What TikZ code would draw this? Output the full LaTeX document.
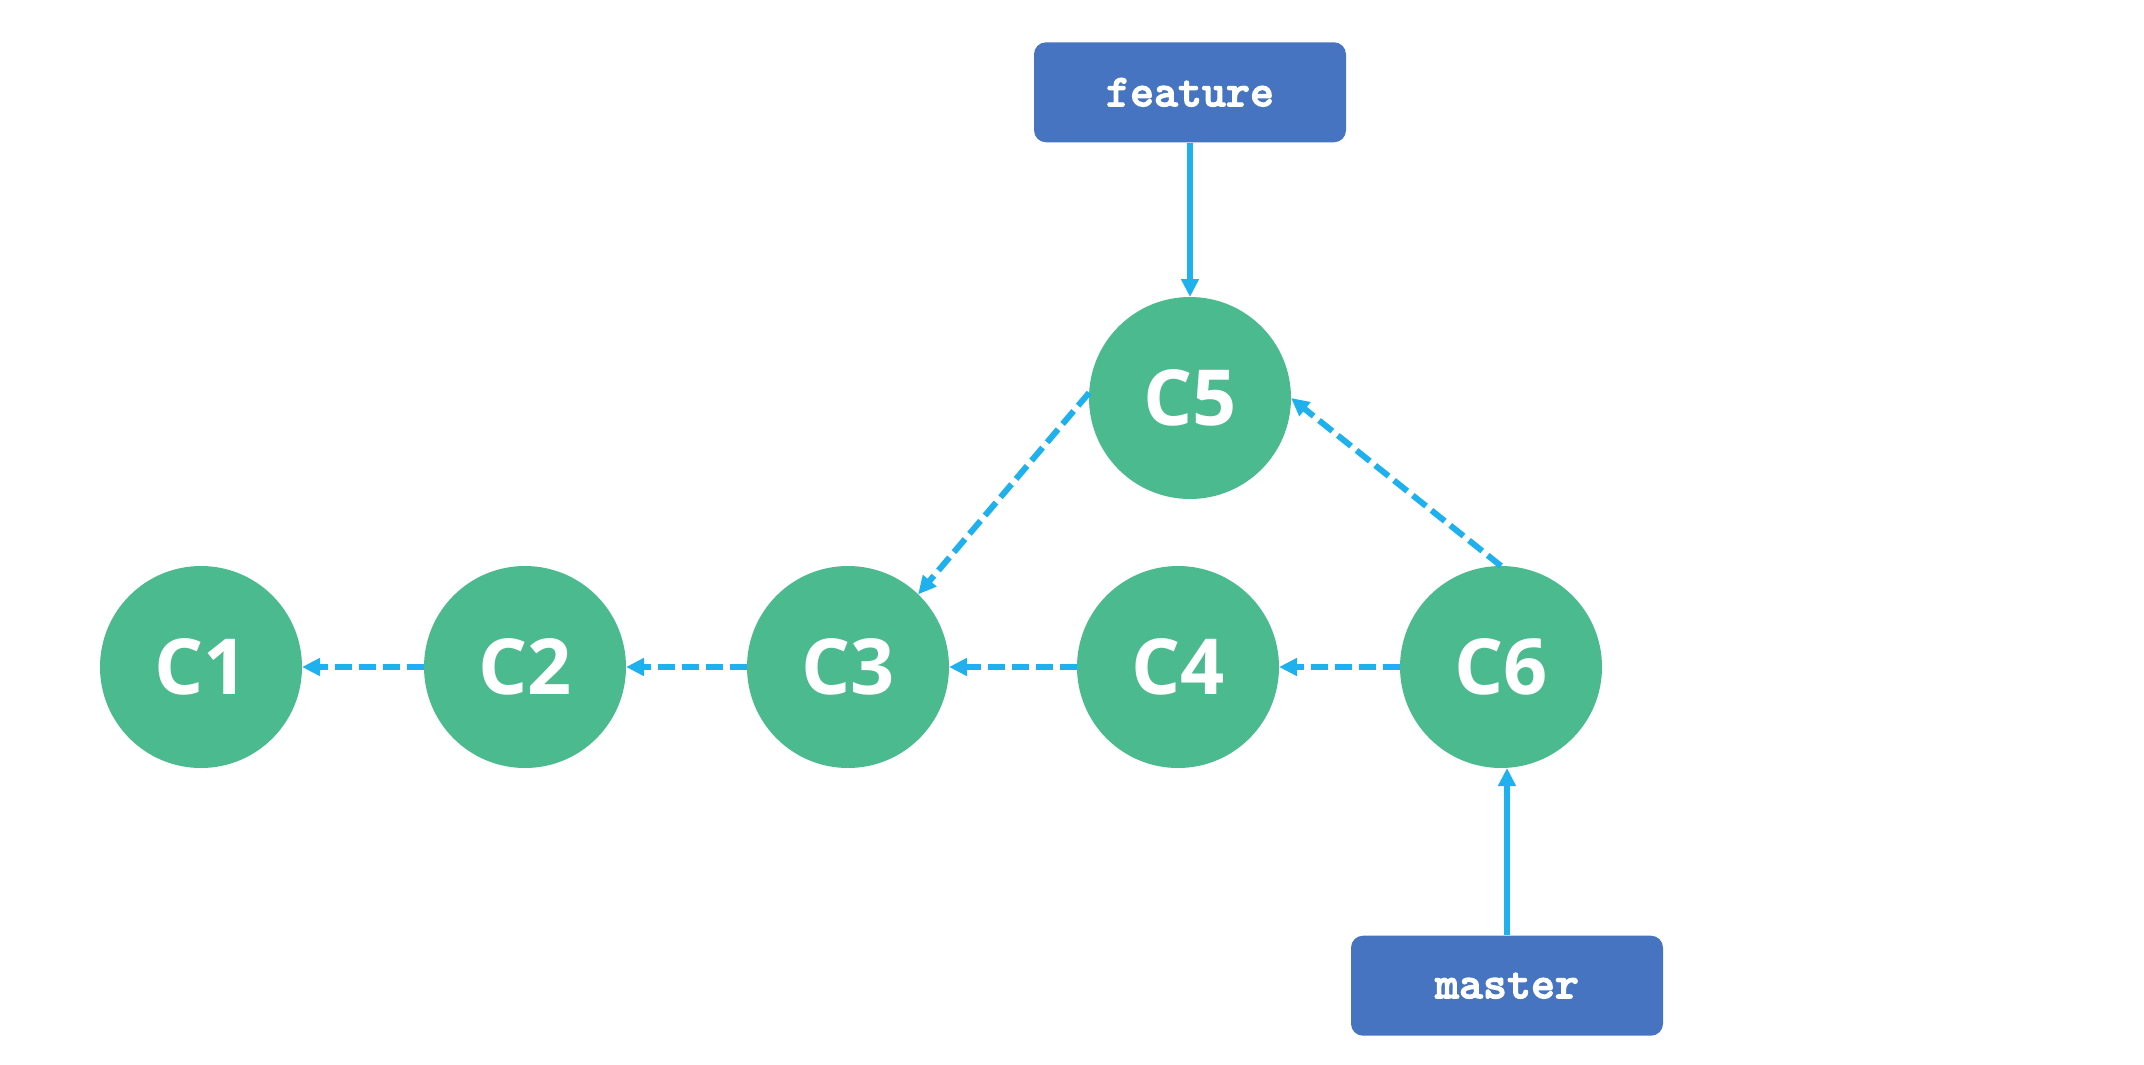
\documentclass[tikz,border=0pt]{standalone}
\usepackage{fontspec}
\usepackage{tikz}
\usetikzlibrary{positioning}
\usetikzlibrary{arrows.meta}

\newfontfamily\commitfont{Open Sans}
\newfontfamily\branchfont{lmmonolt10-bold}[Extension=.otf, FakeBold=2.5]

\definecolor{commitgreen}{RGB}{75,186,143}
\definecolor{branchblue}{RGB}{70,116,193}
\definecolor{linkblue}{RGB}{31,177,238}

\begin{document}
\begin{tikzpicture}[
        commit/.style = {
            circle,
            fill = commitgreen,
            text = white,
            minimum size = 2.02cm,
            inner sep = 0pt,
            outer sep = 0pt,
            font = \commitfont\bfseries\fontsize{22}{26}\selectfont
        },
        branch/.style = {
            rectangle,
            rounded corners = 0.12cm,
            fill = branchblue,
            text = white,
            minimum width = 3.12cm,
            minimum height = 1.0cm,
            inner sep = 0pt,
            font = \branchfont\fontsize{13}{15}\selectfont
        },
        link/.style = {
            -{Triangle[length=0.18cm, width=0.17cm]},
            line width = 0.06cm,
            linkblue,
            dash pattern = on 0.17cm off 0.07cm
        },
        pointer/.style = {
            -{Triangle[length=0.18cm, width=0.17cm]},
            line width = 0.06cm,
            linkblue
        },
        node distance = {12mm}
        ]
%
        \useasboundingbox (0,0) rectangle (21.44,10.64);
%
        \node[commit] (C1) at (2.01,3.97) {C1};
        \node[commit] (C2) [right=1.22cm of C1] {C2};
        \node[commit] (C3) [right=1.21cm of C2] {C3};
        \node[commit] (C4) [right=1.28cm of C3] {C4};
        \node[commit] (C6) [right=1.21cm of C4] {C6};
%
        \node[commit] (C5) at (11.90,6.66) {C5};
%
        \node[branch] (feature) [above=1.54cm of C5] {feature};
        \node[branch, xshift=0.06cm] (master) [below=1.67cm of C6] {master};
%
% 
        \draw[link] (C2) -- (C1);
        \draw[link] (C3) -- (C2);
        \draw[link] (C4) -- (C3);
        \draw[link] (C6) -- (C4);
%
        \draw[link] (C5.177) -- (C3.46);
        \draw[link] (C6.north) -- (C5.east);
%
        \draw[pointer] (feature) -- (C5);
        \draw[pointer] (master) -- (master |- C6.south);
%
    \end{tikzpicture}
\end{document}
